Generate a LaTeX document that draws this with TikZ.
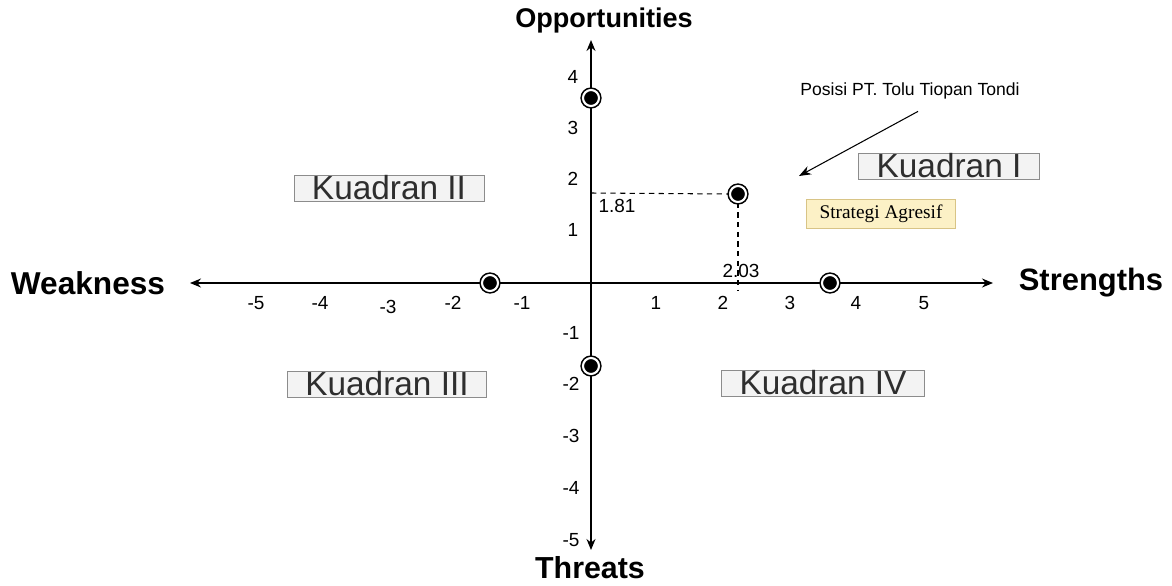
\documentclass[tikz,border=0pt]{standalone}
\usepackage{fontspec}
\setmainfont{Liberation Sans}
\newfontfamily\agrfont{Liberation Serif}
\usetikzlibrary{arrows.meta, positioning}
\definecolor{quadfill}{HTML}{F3F3F3}
\definecolor{quadline}{HTML}{8C8C8C}
\definecolor{agrfill}{HTML}{FCF1C6}
\definecolor{agrline}{HTML}{D8C486}

\begin{document}
\begin{tikzpicture}[
        x=0.02cm, y=-0.02cm,
        axislabel/.style={font=\fontsize{17.6}{20}\selectfont\bfseries},
        tick/.style={font=\fontsize{10.8}{12}\selectfont, inner sep=1pt},
        quad/.style={rectangle, draw=quadline, fill=quadfill, inner xsep=0.36cm, inner ysep=0pt, minimum height=0.52cm, text=black!82, font=\fontsize{19}{22}\selectfont},
        agr/.style={rectangle, draw=agrline, fill=agrfill, inner xsep=0.26cm, minimum height=0.56cm, font=\agrfont\fontsize{11}{13}\selectfont},
        dot/.style={circle, fill=black, draw=black, double=white, double distance=1.2pt, line width=0.9pt, minimum size=0.32cm, inner sep=0pt},
        axis/.style={{Stealth[length=0.22cm, width=0.18cm]}-{Stealth[length=0.22cm, width=0.18cm]}, line width=0.8pt},
        pointer/.style={-{Stealth[length=0.24cm, width=0.18cm]}, line width=0.6pt},
        guide/.style={dashed, line width=0.6pt, dash pattern=on 3pt off 2.5pt}
    ]
    \useasboundingbox (0,0) rectangle (1172,585);

    % Axes
    \coordinate (west) at (190,283);
    \coordinate (east) at (993,283);
    \coordinate (north) at (591,40);
    \coordinate (south) at (591,550);
    \draw [axis] (west) -- (east);
    \draw [axis] (south) -- (north);

    % Axis labels
    \node (weak) [axislabel, font=\fontsize{18}{20}\selectfont\bfseries] at (88,283) {Weakness};
    \node (strong) [axislabel] at (1091,283) {Strengths};
    \node (opp) [axislabel, font=\fontsize{15.4}{18}\selectfont\bfseries] at (604,21) {Opportunities};
    \node (threat) [axislabel, font=\fontsize{17.3}{20}\selectfont\bfseries] at (590,568) {Threats};

    % Ticks on x
    \node (xm5) [tick] at (256,303) {-5};
    \node (xm4) [tick] at (320,303) {-4};
    \node (xm3) [tick] at (388,307) {-3};
    \node (xm2) [tick] at (453,303) {-2};
    \node (xm1) [tick] at (522,303) {-1};
    \node (xp1) [tick] at (656,303) {1};
    \node (xp2) [tick] at (723,303) {2};
    \node (xp3) [tick] at (790,303) {3};
    \node (xp4) [tick] at (856,303) {4};
    \node (xp5) [tick] at (924,303) {5};

    % Ticks on y
    \node (yp4) [tick] at (573,77) {4};
    \node (yp3) [tick] at (573,128) {3};
    \node (yp2) [tick] at (573,179) {2};
    \node (yp1) [tick] at (573,230) {1};
    \node (ym1) [tick] at (571,333) {-1};
    \node (ym2) [tick] at (571,384) {-2};
    \node (ym3) [tick] at (571,436) {-3};
    \node (ym4) [tick] at (571,488) {-4};
    \node (ym5) [tick] at (571,540) {-5};

    % Quadrants
    \node (q1) [quad] at (949,166) {Kuadran I};
    \node (q2) [quad] at (389,188) {Kuadran II};
    \node (q3) [quad] at (387,384) {Kuadran III};
    \node (q4) [quad] at (823,383) {Kuadran IV};
    \node (strat) [agr] at (881,214) {Strategi Agresif};

    % Points
    \node (po) [dot] at (591,98) {};
    \node (pt) [dot] at (591,366) {};
    \node (pw) [dot] at (490,283) {};
    \node (ps) [dot] at (830,283) {};
    \node (pos) [dot] at (738,194) {};

    % Position guides
    \coordinate (ypos) at (591,193);
    \coordinate (xpos) at (738,290);
    \draw [guide] (ypos) -- (pos.west);
    \draw [guide] (pos.south) -- (xpos);
    \node (vy) [tick] at (617,206) {1.81};
    \node (vx) [tick] at (741,271) {2.03};

    % Pointer
    \node (poslabel) [font=\fontsize{10}{12}\selectfont] at (910,91) {Posisi PT. Tolu Tiopan Tondi};
    \coordinate (aim) at (799,176);
    \draw [pointer] ([xshift=0.16cm, yshift=-0.12cm]poslabel.south) -- (aim);
\end{tikzpicture}
\end{document}
